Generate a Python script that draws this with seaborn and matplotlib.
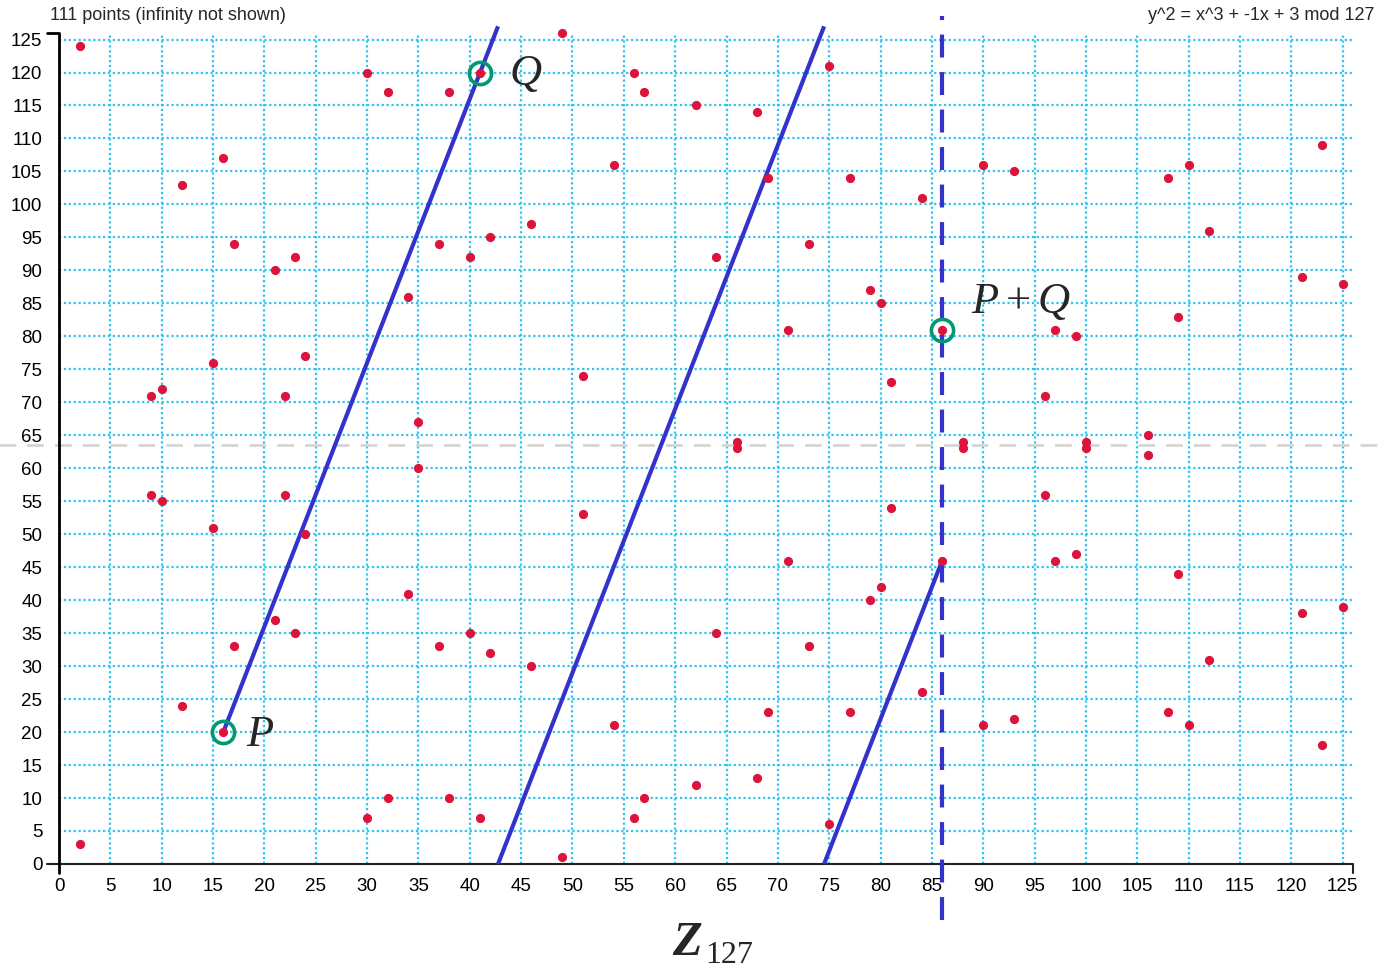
import matplotlib
matplotlib.use("Agg")
import matplotlib.pyplot as plt
import seaborn as sns
import pandas as pd

# curve y^2 = x^3 - x + 3 over Z_127
p_mod = 127
pts_x = [2, 9, 10, 12, 15, 16, 17, 21, 22, 23, 24, 30, 32, 34, 35, 37, 38, 40, 41, 42,
         46, 49, 51, 54, 56, 57, 62, 64, 66, 68, 69, 71, 73, 75, 77, 79, 80, 81, 84, 86,
         88, 90, 93, 96, 97, 99, 100, 106, 108, 109, 110, 112, 121, 123, 125]
pts_y_hi = [124, 71, 72, 103, 76, 107, 94, 90, 71, 92, 77, 120, 117, 86, 67, 94, 117, 92, 120, 95,
            97, 126, 74, 106, 120, 117, 115, 92, 64, 114, 104, 81, 94, 121, 104, 87, 85, 73, 101, 81,
            64, 106, 105, 71, 81, 80, 64, 65, 104, 83, 106, 96, 89, 109, 88]
pts_y_lo = [3, 56, 55, 24, 51, 20, 33, 37, 56, 35, 50, 7, 10, 41, 60, 33, 10, 35, 7, 32,
            30, 1, 53, 21, 7, 10, 12, 35, 63, 13, 23, 46, 33, 6, 23, 40, 42, 54, 26, 46,
            63, 21, 22, 56, 46, 47, 63, 62, 23, 44, 21, 31, 38, 18, 39]

P = [16, 20]
Q = [41, 120]
PQ = [86, 81]

ticks = list(range(0, 126, 5))

df = pd.DataFrame({"x": pts_x + pts_x, "y": pts_y_hi + pts_y_lo})

sns.set_theme(style="white")
plt.rcParams["font.family"] = ["Liberation Sans", "DejaVu Sans"]
plt.rcParams["mathtext.fontset"] = "custom"
plt.rcParams["mathtext.rm"] = "Liberation Serif"
plt.rcParams["mathtext.it"] = "Liberation Serif:italic"
plt.rcParams["mathtext.bf"] = "Liberation Serif:bold"

fig = plt.figure(figsize=(13.85, 9.69), dpi=100)
ax = fig.add_axes([0.0426, 0.1084, 0.9343, 0.8576])

grid_c = "#2ec4f2"
for t in ticks[1:]:
    ax.axvline(t, color=grid_c, lw=1.6, ls=(0, (1, 1.2)), zorder=0)
    ax.axhline(t, color=grid_c, lw=1.6, ls=(0, (1, 1.2)), zorder=0)

# grey mid line
ax.axhline(p_mod / 2, xmin=-0.046, xmax=1.03, color="#d5d5d5", lw=2,
           ls=(0, (6, 4)), clip_on=False, zorder=1)

# chord through P and Q, wrapped mod p
slope = (Q[1] - P[1]) / (Q[0] - P[0])
x0, y0 = P[0], P[1]
while x0 < PQ[0]:
    x1 = x0 + (p_mod - y0) / slope
    if x1 > PQ[0]:
        x1 = PQ[0]
    y1 = y0 + slope * (x1 - x0)
    ax.plot([x0, x1], [y0, y1], color="#3333cc", lw=3, clip_on=False,
            solid_capstyle="butt", zorder=3)
    x0, y0 = x1, 0

# vertical dashed line at P+Q
ax.plot([PQ[0], PQ[0]], [-8.5, 128.6], color="#3333cc", lw=3,
        ls=(0, (5.5, 3.5)), clip_on=False, zorder=3)

sns.scatterplot(data=df, x="x", y="y", ax=ax, color="#dc143c", s=44,
                linewidth=0, zorder=4, clip_on=False)

for pt in (P, Q, PQ):
    ax.plot(pt[0], pt[1], marker="o", ms=16, mfc="none", mec="#009973",
            mew=2.6, zorder=5, clip_on=False)

lab_kw = dict(textcoords="offset points", fontsize=32, ha="left", va="center",
              annotation_clip=False)
ax.annotate("$P$", xy=P, xytext=(16, -2), **lab_kw)
ax.annotate("$Q$", xy=Q, xytext=(21, -1), **lab_kw)
ax.annotate(r"$P\:+\:Q$", xy=PQ, xytext=(21, 20), **lab_kw)

ax.set_xlim(0, 126)
ax.set_ylim(0, 126)
ax.set_xticks(ticks)
ax.set_yticks(ticks)
ax.set_xlabel("")
ax.set_ylabel("")
for s in ax.spines.values():
    s.set_visible(False)
ax.tick_params(axis="both", length=0, labelsize=13.5, colors="black")
ax.tick_params(axis="x", pad=10)
ax.tick_params(axis="y", pad=12)

# axis lines with outer ticks
ax.plot([-1.2, 126, 126], [0, 0, -1.4], color="#222222", lw=1.5,
        clip_on=False, zorder=2)
ax.plot([0, 0, -1.2], [-1.4, 126, 126], color="black", lw=2,
        clip_on=False, zorder=2)

fig.text(50 / 1385, 1 - 16 / 969, "111 points (infinity not shown)",
         fontsize=13, ha="left", va="center")
fig.text(1374 / 1385, 1 - 16 / 969, "y^2 = x^3 + -1x + 3 mod 127",
         fontsize=13, ha="right", va="center")
fig.text(672 / 1385, 1 - 955 / 969, "Z", fontsize=35, family="Liberation Serif",
         weight="bold", style="italic", ha="left", va="baseline")
fig.text(705 / 1385, 1 - 963 / 969, "127", fontsize=23, family="Liberation Serif",
         ha="left", va="baseline")

fig.savefig("out.png", dpi=100)
